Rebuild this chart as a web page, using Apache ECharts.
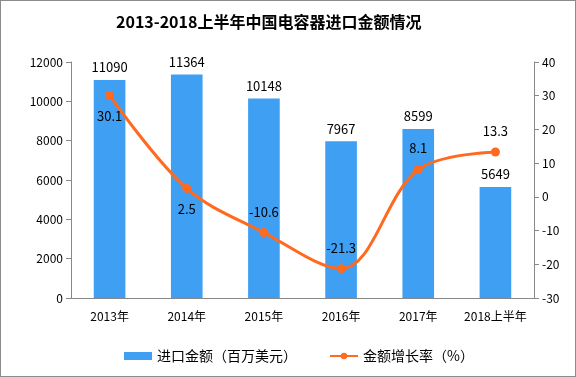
<!DOCTYPE html>
<html>
<head>
<meta charset="utf-8">
<script src="https://cdn.jsdelivr.net/npm/echarts@6/dist/echarts.min.js"></script>
<style>
  html, body { margin: 0; padding: 0; background: #fff; }
  #chart-container { width: 574px; height: 375px; border: 1px solid #8c8c8c; }
</style>
</head>
<body>
<div id="chart-container"></div>
<script>
const categories = ['2013年', '2014年', '2015年', '2016年', '2017年', '2018上半年'];
const importValues = [11090, 11364, 10148, 7967, 8599, 5649];
const growthRates = [30.1, 2.5, -10.6, -21.3, 8.1, 13.3];
// labels of the line sit below the point for the first two years
const rateLabelPos = ['bottom', 'bottom', 'top', 'top', 'top', 'top'];

const font = '"Noto Sans CJK SC", "DejaVu Sans", sans-serif';

const myChart = echarts.init(document.getElementById('chart-container'));
const option = {
	textStyle: { fontFamily: font },
	title: {
		text: '2013-2018上半年中国电容器进口金额情况',
		left: 110,
		top: 8,
		textStyle: { fontSize: 16, fontWeight: 'bold', color: '#000', fontFamily: font }
	},
	legend: {
		bottom: 8,
		left: 118,
		itemGap: 32,
		itemWidth: 28,
		itemHeight: 8,
		textStyle: { fontSize: 14, color: '#000', fontFamily: font },
		data: [
			{ name: '进口金额（百万美元）', icon: 'rect' },
			{ name: '金额增长率（%）' }
		]
	},
	grid: { left: 70, right: 41, top: 61, bottom: 78 },
	xAxis: {
		type: 'category',
		data: categories,
		axisLine: { lineStyle: { color: '#888' } },
		axisTick: { lineStyle: { color: '#888' }, length: 5 },
		axisLabel: { color: '#000', fontSize: 12, margin: 12, interval: 0 }
	},
	yAxis: [{
		type: 'value',
		min: 0,
		max: 12000,
		interval: 2000,
		splitLine: { show: false },
		axisLine: { show: true, lineStyle: { color: '#888' } },
		axisTick: { show: true, lineStyle: { color: '#888' }, length: 5 },
		axisLabel: { color: '#000', fontSize: 12, formatter: v => String(v) }
	}, {
		type: 'value',
		min: -30,
		max: 40,
		interval: 10,
		splitLine: { show: false },
		axisLine: { show: true, lineStyle: { color: '#888' } },
		axisTick: { show: true, lineStyle: { color: '#888' }, length: 5 },
		axisLabel: { color: '#000', fontSize: 12 }
	}],
	series: [{
		name: '进口金额（百万美元）',
		type: 'bar',
		data: importValues,
		barWidth: '41%',
		itemStyle: { color: '#3f9ff2' },
		label: { show: true, position: 'top', color: '#000', fontSize: 13, distance: 6 }
	}, {
		name: '金额增长率（%）',
		type: 'line',
		yAxisIndex: 1,
		smooth: 0.35,
		symbol: 'circle',
		symbolSize: 9,
		data: growthRates.map((v, i) => ({
			value: v,
			label: { position: rateLabelPos[i] }
		})),
		lineStyle: { width: 3, color: '#ff6a1f' },
		itemStyle: { color: '#ff6a1f' },
		label: { show: true, color: '#000', fontSize: 13, distance: 10 }
	}]
};
myChart.setOption(option);
</script>
</body>
</html>
